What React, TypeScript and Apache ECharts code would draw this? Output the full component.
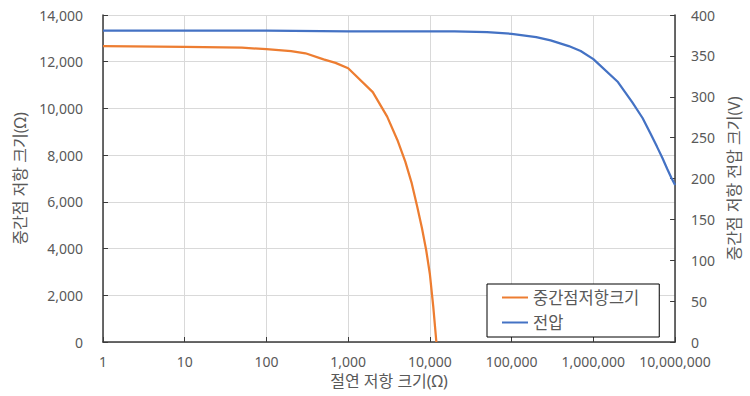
import React, { useEffect, useRef } from "react";
import * as echarts from "echarts";

const seriesNames = ["중간점저항크기", "전압"];
const xAxisName = "절연 저항 크기(Ω)";
const leftAxisName = "중간점 저항 크기(Ω)";
const rightAxisName = "중간점 저항 전압 크기(V)";

const midResX = [1, 10, 50, 100, 200, 300, 500, 700, 1000, 2000, 3000, 4000, 5000, 6000, 7000, 8000, 9000, 10000, 11000, 12000];
const midResVal = [12670, 12640, 12600, 12540, 12450, 12360, 12100, 11950, 11720, 10700, 9650, 8650, 7720, 6790, 5790, 4870, 3940, 2900, 1500, 0];

const voltX = [1, 10, 100, 1000, 10000, 20000, 50000, 100000, 200000, 300000, 500000, 700000, 1000000, 2000000, 3000000, 4000000, 5000000, 6000000, 7000000, 8000000, 9000000, 10000000];
const voltVal = [381, 381, 381, 380, 380, 380, 379, 377, 373, 369, 362, 356, 346, 318, 293, 274, 255, 239, 225, 212, 201, 192];

const FONT = "'Noto Sans', 'Noto Sans CJK KR', sans-serif";
const TEXT = "#595959";
const AXIS = "#3a3a3a";
const GRID = "#d9d9d9";

export default function App() {
  const ref = useRef<HTMLDivElement>(null);
  useEffect(() => {
    if (!ref.current) return;
    const chart = echarts.init(ref.current, undefined, { renderer: "svg" });
    const fmt = (v: number) => Math.round(v).toLocaleString("en-US");
    chart.setOption({
      animation: false,
      textStyle: { fontFamily: FONT },
      grid: { left: 103, right: 70, top: 15, bottom: 54 },
      legend: {
        orient: "vertical",
        left: 487,
        top: 284,
        icon: "rect",
        itemWidth: 26,
        itemHeight: 2,
        itemGap: 6,
        padding: [4, 20, 5, 15],
        borderColor: "#000",
        borderWidth: 1,
        backgroundColor: "#fff",
        textStyle: { fontFamily: FONT, fontSize: 16.5, color: TEXT, lineHeight: 19 },
        data: seriesNames,
      },
      xAxis: {
        type: "log",
        logBase: 10,
        min: 1,
        max: 10000000,
        name: xAxisName,
        nameLocation: "middle",
        nameGap: 30,
        nameTextStyle: { fontFamily: FONT, fontSize: 16, color: TEXT },
        axisLine: { show: true, lineStyle: { color: AXIS, width: 1.5 } },
        axisTick: { show: true, inside: true, length: 5, lineStyle: { color: AXIS } },
        axisLabel: { color: TEXT, fontSize: 14, fontFamily: FONT, margin: 12, formatter: fmt },
        splitLine: { show: true, lineStyle: { color: GRID, width: 1 } },
        minorTick: { show: false },
      },
      yAxis: [
        {
          type: "value",
          min: 0,
          max: 14000,
          interval: 2000,
          name: leftAxisName,
          nameLocation: "middle",
          nameRotate: 90,
          nameGap: 71,
          nameTextStyle: { fontFamily: FONT, fontSize: 16, color: TEXT },
          axisLine: { show: true, lineStyle: { color: AXIS, width: 1.5 } },
          axisTick: { show: true, inside: true, length: 5, lineStyle: { color: AXIS } },
          axisLabel: { color: TEXT, fontSize: 14, fontFamily: FONT, margin: 20, formatter: fmt },
          splitLine: { show: true, lineStyle: { color: GRID, width: 1 } },
        },
        {
          type: "value",
          min: 0,
          max: 400,
          interval: 50,
          position: "right",
          name: rightAxisName,
          nameLocation: "middle",
          nameRotate: 90,
          nameGap: 47,
          nameTextStyle: { fontFamily: FONT, fontSize: 16, color: TEXT },
          axisLine: { show: true, lineStyle: { color: AXIS, width: 1.5 } },
          axisTick: { show: true, inside: true, length: 5, lineStyle: { color: AXIS } },
          axisLabel: { color: TEXT, fontSize: 14, fontFamily: FONT, margin: 16 },
          splitLine: { show: false },
        },
      ],
      series: [
        {
          name: seriesNames[0],
          type: "line",
          yAxisIndex: 0,
          symbol: "none",
          showSymbol: false,
          color: "#ED7D31",
          lineStyle: { color: "#ED7D31", width: 2.25 },
          data: midResX.map((x, i) => [x, midResVal[i]]),
          z: 3,
        },
        {
          name: seriesNames[1],
          type: "line",
          yAxisIndex: 1,
          symbol: "none",
          showSymbol: false,
          color: "#4472C4",
          lineStyle: { color: "#4472C4", width: 2.25 },
          data: voltX.map((x, i) => [x, voltVal[i]]),
          z: 3,
        },
      ],
    });
    return () => chart.dispose();
  }, []);
  return (
    <div
      ref={ref}
      style={{ position: "absolute", left: 0, top: 0, width: 750, height: 396, background: "#fff" }}
    />
  );
}
